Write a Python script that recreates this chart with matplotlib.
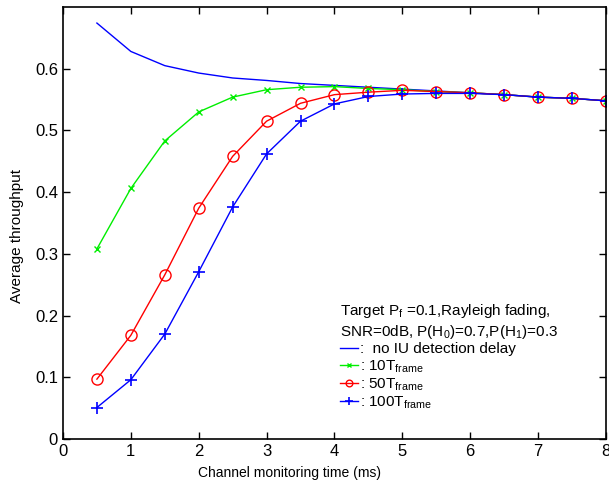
import matplotlib
matplotlib.use("Agg")
import matplotlib.pyplot as plt

plt.rcParams['font.family'] = ['Liberation Sans Narrow', 'Liberation Sans', 'DejaVu Sans']
plt.rcParams['mathtext.fontset'] = 'custom'
plt.rcParams['mathtext.rm'] = 'Liberation Sans'

# monitoring time (ms)
t_ms = [0.5, 1.0, 1.5, 2.0, 2.5, 3.0, 3.5, 4.0, 4.5, 5.0, 5.5, 6.0, 6.5, 7.0, 7.5, 8.0]

# throughput curves
no_delay = [0.674, 0.628, 0.605, 0.593, 0.585, 0.581, 0.576, 0.573, 0.570, 0.567,
            0.564, 0.561, 0.558, 0.554, 0.552, 0.548]
delay_10 = [0.308, 0.406, 0.483, 0.530, 0.554, 0.566, 0.570, 0.571, 0.568, 0.566,
            0.563, 0.561, 0.558, 0.554, 0.552, 0.548]
delay_50 = [0.097, 0.168, 0.266, 0.374, 0.458, 0.515, 0.544, 0.558, 0.562, 0.565,
            0.563, 0.561, 0.558, 0.554, 0.552, 0.548]
delay_100 = [0.051, 0.096, 0.170, 0.271, 0.376, 0.462, 0.515, 0.543, 0.555, 0.559,
             0.560, 0.560, 0.558, 0.554, 0.552, 0.548]

labels = [':  no IU detection delay', ': 10T$_\\mathrm{frame}$',
          ': 50T$_\\mathrm{frame}$', ': 100T$_\\mathrm{frame}$']

fig = plt.figure(figsize=(6.09, 4.84), dpi=100)
ax = fig.add_axes([0.1034, 0.093, 0.8916, 0.8925])

h0, = ax.plot(t_ms, no_delay, color='#0000ff', lw=1.0)
h1, = ax.plot(t_ms, delay_10, color='#00ee00', lw=1.0, marker='x', ms=5, mew=1.0)
h2, = ax.plot(t_ms, delay_50, color='#ff0000', lw=1.0, marker='o', ms=8,
              mfc='none', mew=1.0)
h3, = ax.plot(t_ms, delay_100, color='#0000ff', lw=1.0, marker='+', ms=9, mew=1.2)

ax.set_xlim(0, 8)
ax.set_ylim(0, 0.7)
ax.set_xticks(range(0, 9))
ax.set_yticks([0, 0.1, 0.2, 0.3, 0.4, 0.5, 0.6])
ax.set_yticklabels(['0', '0.1', '0.2', '0.3', '0.4', '0.5', '0.6'])
ax.tick_params(direction='in', top=True, right=True, labelsize=12, length=5, width=1)
for s in ax.spines.values():
    s.set_linewidth(1.2)

# labels sit a bit off-centre in the original
ax.set_xlabel('Channel monitoring time (ms)', fontsize=10)
ax.xaxis.set_label_coords(0.418, -0.063)
ax.set_ylabel('Average throughput', fontsize=11)
ax.yaxis.set_label_coords(-0.072, 0.471)

leg = ax.legend([h0, h1, h2, h3], labels, loc='lower left',
                bbox_to_anchor=(0.49, 0.04), frameon=False, fontsize=11,
                title='Target P$_\\mathrm{f}$ =0.1,Rayleigh fading,\n'
                      'SNR=0dB, P(H$_0$)=0.7,P(H$_1$)=0.3',
                title_fontsize=11, alignment='left', handlelength=1.2,
                handletextpad=0.1, labelspacing=0.1, borderpad=0.2,
                numpoints=1, markerscale=0.6)

fig.savefig('out.png', dpi=100)
